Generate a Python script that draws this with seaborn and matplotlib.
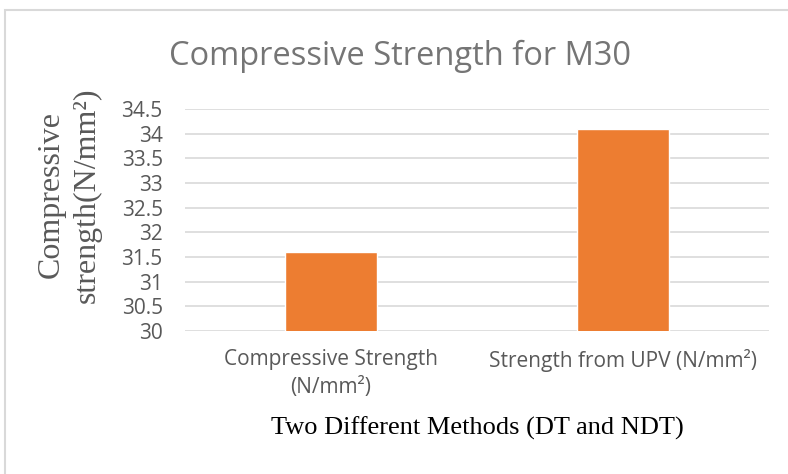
import numpy as np
import pandas as pd
import seaborn as sns
import matplotlib
matplotlib.use('Agg')
import matplotlib.pyplot as plt
from matplotlib.patches import Rectangle

# data
methods = ['Compressive Strength\n(N/mm²)', 'Strength from UPV (N/mm²)']
strength = [31.6, 34.1]
yticks = [30, 30.5, 31, 31.5, 32, 32.5, 33, 33.5, 34, 34.5]

df = pd.DataFrame({'method': methods, 'strength': strength})

sns.set_style('white')
plt.rcParams['font.family'] = ['Open Sans', 'DejaVu Sans']

fig = plt.figure(figsize=(7.88, 4.74), dpi=100)
ax = fig.add_axes([185 / 788, 1 - 331 / 474, 584 / 788, 222 / 474])

sns.barplot(data=df, x='method', y='strength', color='#ED7D31', width=0.315,
            saturation=1, ax=ax, zorder=3)

ax.set_ylim(30, 34.5)
ax.set_yticks(yticks)
ax.set_yticklabels([f'{t:g}' for t in yticks])
ax.grid(axis='y', color='#D9D9D9', linewidth=1.2, zorder=0)
ax.tick_params(axis='both', length=0, labelsize=15, labelcolor='#595959')
ax.tick_params(axis='y', pad=16)
ax.tick_params(axis='x', pad=13)
for lab in ax.get_xticklabels():
    lab.set_linespacing(1.45)
for s in ax.spines.values():
    s.set_visible(False)

ax.set_ylabel('Compressive\nstrength(N/mm²)', family='Liberation Serif',
              fontsize=23, color='#595959', linespacing=1.3, va='center', ha='center')
ax.yaxis.set_label_coords(-0.1986, 0.613)
ax.set_xlabel('Two Different Methods (DT and NDT)', family='Liberation Serif',
              fontsize=19, color='black', va='center')
ax.xaxis.set_label_coords(0.5, -0.437)

fig.text(400 / 788, 1 - 65 / 474, 'Compressive Strength for M30', ha='center', va='baseline',
         fontsize=23.5, color='#757575')

# chart frame
fig.patches.append(Rectangle((5 / 788, -0.1), 1.0, 1 - 10 / 474 + 0.1, transform=fig.transFigure,
                             fill=False, edgecolor='#D9D9D9', linewidth=1.5))

fig.savefig('out.png', dpi=100)
